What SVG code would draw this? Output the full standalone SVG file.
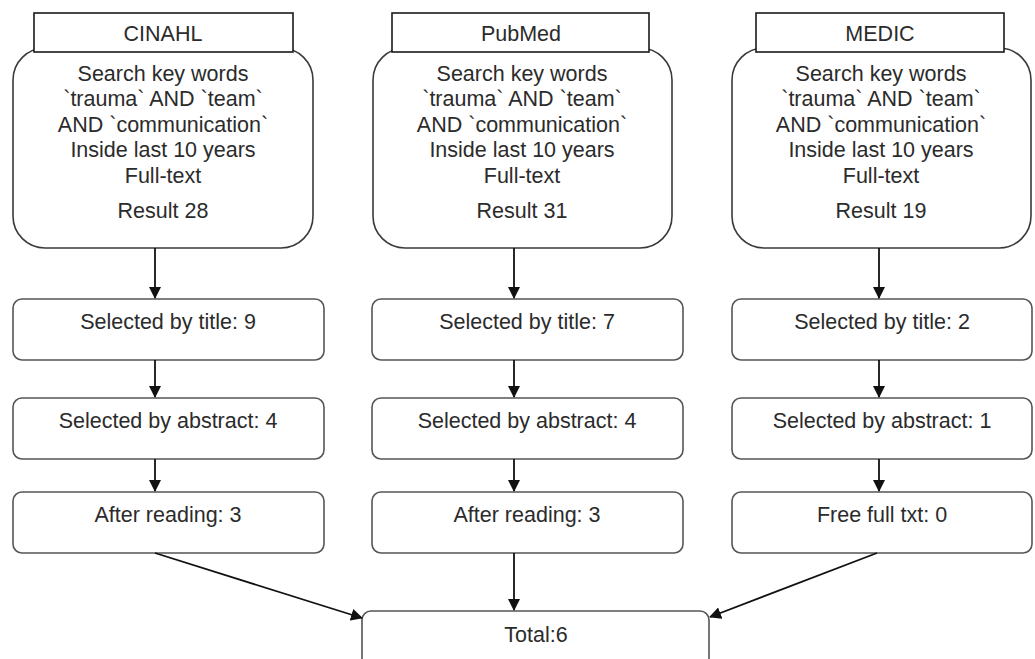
<svg xmlns="http://www.w3.org/2000/svg" width="1035" height="659" viewBox="0 0 1035 659">
<style>
.big{fill:#fff;stroke:#3a3a3a;stroke-width:1.6}
.hdr{fill:#fff;stroke:#1a1a1a;stroke-width:1.6}
.box{fill:#fff;stroke:#555;stroke-width:1.6}
text{font-family:"Liberation Sans",Arial,sans-serif;font-size:21.5px;fill:#2b2b2b;text-anchor:middle}
.con{stroke:#111;stroke-width:1.8;fill:none;marker-end:url(#ah)}
</style>
<defs>
<marker id="ah" markerWidth="12" markerHeight="12" refX="11" refY="6" orient="auto" markerUnits="userSpaceOnUse" viewBox="0 0 12 12">
<path d="M0,0 L12,6 L0,12 z" fill="#111"/>
</marker>
</defs>
<rect width="1035" height="659" fill="#fff"/>
<g id="cinahl">
<rect class="big" x="13" y="48" width="300" height="200" rx="32"/>
<rect class="hdr" x="34" y="13" width="259" height="39"/>
<text x="163" y="41">CINAHL</text>
<text x="163" y="81">Search key words</text>
<text x="163" y="106">`trauma` AND `team`</text>
<text x="163" y="132">AND `communication`</text>
<text x="163" y="157">Inside last 10 years</text>
<text x="163" y="183">Full-text</text>
<text x="163" y="218">Result 28</text>
</g>
<g id="pubmed">
<rect class="big" x="373" y="48" width="299" height="200" rx="32"/>
<rect class="hdr" x="392" y="13" width="257" height="39"/>
<text x="521" y="41">PubMed</text>
<text x="522" y="81">Search key words</text>
<text x="522" y="106">`trauma` AND `team`</text>
<text x="522" y="132">AND `communication`</text>
<text x="522" y="157">Inside last 10 years</text>
<text x="522" y="183">Full-text</text>
<text x="522" y="218">Result 31</text>
</g>
<g id="medic">
<rect class="big" x="732" y="48" width="299" height="200" rx="32"/>
<rect class="hdr" x="756" y="13" width="248" height="39"/>
<text x="880" y="41">MEDIC</text>
<text x="881" y="81">Search key words</text>
<text x="881" y="106">`trauma` AND `team`</text>
<text x="881" y="132">AND `communication`</text>
<text x="881" y="157">Inside last 10 years</text>
<text x="881" y="183">Full-text</text>
<text x="881" y="218">Result 19</text>
</g>
<g id="c1-title"><rect class="box" x="13" y="299" width="311" height="61" rx="9"/><text x="168" y="329">Selected by title: 9</text></g>
<g id="c1-abstract"><rect class="box" x="13" y="398" width="311" height="61" rx="9"/><text x="168" y="428">Selected by abstract: 4</text></g>
<g id="c1-reading"><rect class="box" x="13" y="492" width="311" height="61" rx="9"/><text x="168" y="522">After reading: 3</text></g>
<g id="c2-title"><rect class="box" x="372" y="299" width="311" height="61" rx="9"/><text x="527" y="329">Selected by title: 7</text></g>
<g id="c2-abstract"><rect class="box" x="372" y="398" width="311" height="61" rx="9"/><text x="527" y="428">Selected by abstract: 4</text></g>
<g id="c2-reading"><rect class="box" x="372" y="492" width="311" height="61" rx="9"/><text x="527" y="522">After reading: 3</text></g>
<g id="c3-title"><rect class="box" x="732" y="299" width="300" height="61" rx="9"/><text x="882" y="329">Selected by title: 2</text></g>
<g id="c3-abstract"><rect class="box" x="732" y="398" width="300" height="61" rx="9"/><text x="882" y="428">Selected by abstract: 1</text></g>
<g id="c3-fulltext"><rect class="box" x="732" y="492" width="300" height="61" rx="9"/><text x="882" y="522">Free full txt: 0</text></g>
<g id="total"><rect class="box" x="362" y="611" width="347" height="60" rx="9"/><text x="536" y="642">Total:6</text></g>
<g id="connectors">
<line class="con" x1="155" y1="248" x2="155" y2="298"/>
<line class="con" x1="155" y1="360" x2="155" y2="397"/>
<line class="con" x1="155" y1="459" x2="155" y2="491"/>
<line class="con" x1="514" y1="248" x2="514" y2="298"/>
<line class="con" x1="514" y1="360" x2="514" y2="397"/>
<line class="con" x1="514" y1="459" x2="514" y2="491"/>
<line class="con" x1="879" y1="248" x2="879" y2="298"/>
<line class="con" x1="879" y1="360" x2="879" y2="397"/>
<line class="con" x1="879" y1="459" x2="879" y2="491"/>
<line class="con" x1="155" y1="553" x2="362" y2="618"/>
<line class="con" x1="514" y1="553" x2="514" y2="610"/>
<line class="con" x1="877" y1="553" x2="710" y2="617"/>
</g>
</svg>
